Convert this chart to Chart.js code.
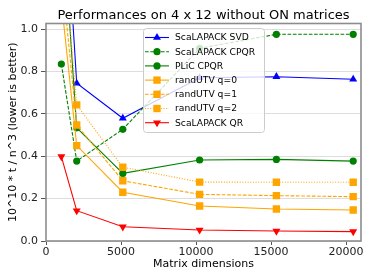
<!DOCTYPE html>
<html><head><meta charset="utf-8">
<script src="https://cdn.jsdelivr.net/npm/chart.js@4.4.1/dist/chart.umd.min.js"></script>
<style>html,body{margin:0;padding:0;background:#fff}#wrap{width:374px;height:280px}</style>
</head><body><div id="wrap"><canvas id="c" width="374" height="280"></canvas></div>
<script>
const matrixSizes = [1024, 2048, 5120, 10240, 15360, 20480];
const scalapackSVD  = [1.90, 0.744, 0.579, 0.770, 0.775, 0.763];
const scalapackCPQR = [0.835, 0.377, 0.527, 0.909, 0.975, 0.975];
const plicCPQR      = [1.60, 0.534, 0.319, 0.382, 0.385, 0.377];
const randUTVq0     = [1.13, 0.450, 0.230, 0.165, 0.151, 0.146];
const randUTVq1     = [1.28, 0.547, 0.284, 0.220, 0.214, 0.209];
const randUTVq2     = [1.49, 0.642, 0.348, 0.278, 0.277, 0.277];
const scalapackQR   = [0.398, 0.143, 0.067, 0.052, 0.047, 0.044];
const xTicks = [0, 5000, 10000, 15000, 20000];
const yTicks = [0.0, 0.2, 0.4, 0.6, 0.8, 1.0];
const seriesNames = ['ScaLAPACK SVD','ScaLAPACK CPQR','PLiC CPQR','randUTV q=0','randUTV q=1','randUTV q=2','ScaLAPACK QR'];
const chartTitle = 'Performances on 4 x 12 without ON matrices';

const FONT = "'DejaVu Sans', sans-serif";
const styles = [
  {c:'#0000ff', dash:[], pt:'triangle', r:4.6, rot:0},
  {c:'#008000', dash:[3.7,1.6], pt:'circle', r:3.6, rot:0},
  {c:'#008000', dash:[], pt:'circle', r:3.6, rot:0},
  {c:'#ffa500', dash:[], pt:'rect', r:5.2, rot:0},
  {c:'#ffa500', dash:[3.7,1.6], pt:'rect', r:5.2, rot:0},
  {c:'#ffa500', dash:[1,1.65], pt:'rect', r:5.2, rot:0},
  {c:'#ff0000', dash:[], pt:'triangle', r:4.6, rot:180},
];
const seriesVals = [scalapackSVD, scalapackCPQR, plicCPQR, randUTVq0, randUTVq1, randUTVq2, scalapackQR];

const datasets = seriesVals.map((vals, i) => ({
  label: seriesNames[i],
  data: matrixSizes.map((x, j) => ({x: x, y: vals[j]})),
  borderColor: styles[i].c,
  backgroundColor: styles[i].c,
  borderWidth: 1.1,
  borderDash: styles[i].dash,
  pointStyle: styles[i].pt,
  pointRadius: styles[i].r,
  pointRotation: styles[i].rot,
  pointBorderWidth: 0,
  pointBackgroundColor: styles[i].c,
  tension: 0,
  order: seriesVals.length - i
}));

function drawMarker(ctx, st, x, y) {
  ctx.save();
  ctx.fillStyle = st.c;
  ctx.beginPath();
  if (st.pt === 'circle') {
    ctx.arc(x, y, st.r, 0, Math.PI*2);
  } else if (st.pt === 'rect') {
    const s = Math.SQRT1_2 * st.r;
    ctx.rect(x - s, y - s, 2*s, 2*s);
  } else {
    const r = st.r; let rad = st.rot * Math.PI/180;
    ctx.moveTo(x + Math.sin(rad)*r, y - Math.cos(rad)*r);
    rad += 2*Math.PI/3;
    ctx.lineTo(x + Math.sin(rad)*r, y - Math.cos(rad)*r);
    rad += 2*Math.PI/3;
    ctx.lineTo(x + Math.sin(rad)*r, y - Math.cos(rad)*r);
    ctx.closePath();
  }
  ctx.fill();
  ctx.restore();
}

const legendPlugin = {
  id: 'mplLegend',
  afterDatasetsDraw(chart) {
    const ctx = chart.ctx, ca = chart.chartArea;
    const bx = ca.left + 97, by = ca.top + 4.5, bw = 121, bh = 104;
    ctx.save();
    ctx.fillStyle = 'rgba(255,255,255,0.8)';
    ctx.strokeStyle = '#cccccc';
    ctx.lineWidth = 1;
    ctx.beginPath();
    if (ctx.roundRect) ctx.roundRect(bx+0.5, by+0.5, bw, bh, 3); else ctx.rect(bx+0.5, by+0.5, bw, bh);
    ctx.fill(); ctx.stroke();
    ctx.font = '9.2px ' + FONT;
    ctx.textBaseline = 'middle';
    ctx.fillStyle = '#000';
    for (let i = 0; i < seriesNames.length; i++) {
      const y = by + 9.5 + i * 14.2;
      const st = styles[i];
      ctx.save();
      ctx.strokeStyle = st.c; ctx.lineWidth = 1.1; ctx.setLineDash(st.dash);
      ctx.beginPath(); ctx.moveTo(bx + 2, y); ctx.lineTo(bx + 26, y); ctx.stroke();
      ctx.restore();
      drawMarker(ctx, st, bx + 14, y);
      ctx.fillStyle = '#000';
      ctx.fillText(seriesNames[i], bx + 32, y + 0.5);
    }
    ctx.restore();
  },
  afterDraw(chart) {
    const ctx = chart.ctx, ca = chart.chartArea;
    ctx.save();
    ctx.strokeStyle = '#8c8c8c';
    ctx.lineWidth = 1.6;
    ctx.strokeRect(ca.left, ca.top, ca.right - ca.left, ca.bottom - ca.top);
    ctx.fillStyle = '#000';
    ctx.font = '13px ' + FONT;
    ctx.textAlign = 'center';
    ctx.textBaseline = 'alphabetic';
    ctx.fillText(chartTitle, (ca.left + ca.right) / 2, 18.5);
    ctx.restore();
  }
};

new Chart(document.getElementById('c'), {
  type: 'line',
  data: { datasets },
  options: {
    responsive: false,
    animation: false,
    devicePixelRatio: 1,
    layout: { padding: { left: 0, right: 13, top: 23.5, bottom: 0 } },
    plugins: {
      legend: { display: false },
      tooltip: { enabled: false },
      title: { display: false }
    },
    scales: {
      x: {
        type: 'linear',
        min: 0, max: 21000,
        afterBuildTicks(s) { s.ticks = xTicks.map(v => ({value: v})); },
        afterFit(s) { s.height = 39; },
        ticks: { color: '#222', font: { family: FONT, size: 11 }, padding: 1, maxRotation: 0,
                 callback: v => String(v) },
        grid: { drawOnChartArea: false, drawTicks: true, tickLength: 4, tickColor: '#555', tickWidth: 1 },
        border: { display: false },
        title: { display: true, text: 'Matrix dimensions', color: '#000',
                 font: { family: FONT, size: 11, lineHeight: 1.2 }, padding: { top: 0, bottom: 9 } }
      },
      y: {
        min: 0, max: 1.026,
        afterBuildTicks(s) { s.ticks = yTicks.map(v => ({value: v})); },
        afterFit(s) { s.width = 46; },
        ticks: { color: '#222', font: { family: FONT, size: 11 }, padding: 3,
                 callback: v => Number(v).toFixed(1) },
        grid: { color: '#dddddd', lineWidth: 1, drawTicks: true, tickLength: 5, tickColor: '#555', tickWidth: 1 },
        border: { display: false },
        title: { display: true, text: '10^10 * t / n^3 (lower is better)', color: '#000',
                 font: { family: FONT, size: 11, lineHeight: 1.2 }, padding: { top: 7, bottom: 0 } }
      }
    }
  },
  plugins: [legendPlugin]
});
</script>
</body></html>
